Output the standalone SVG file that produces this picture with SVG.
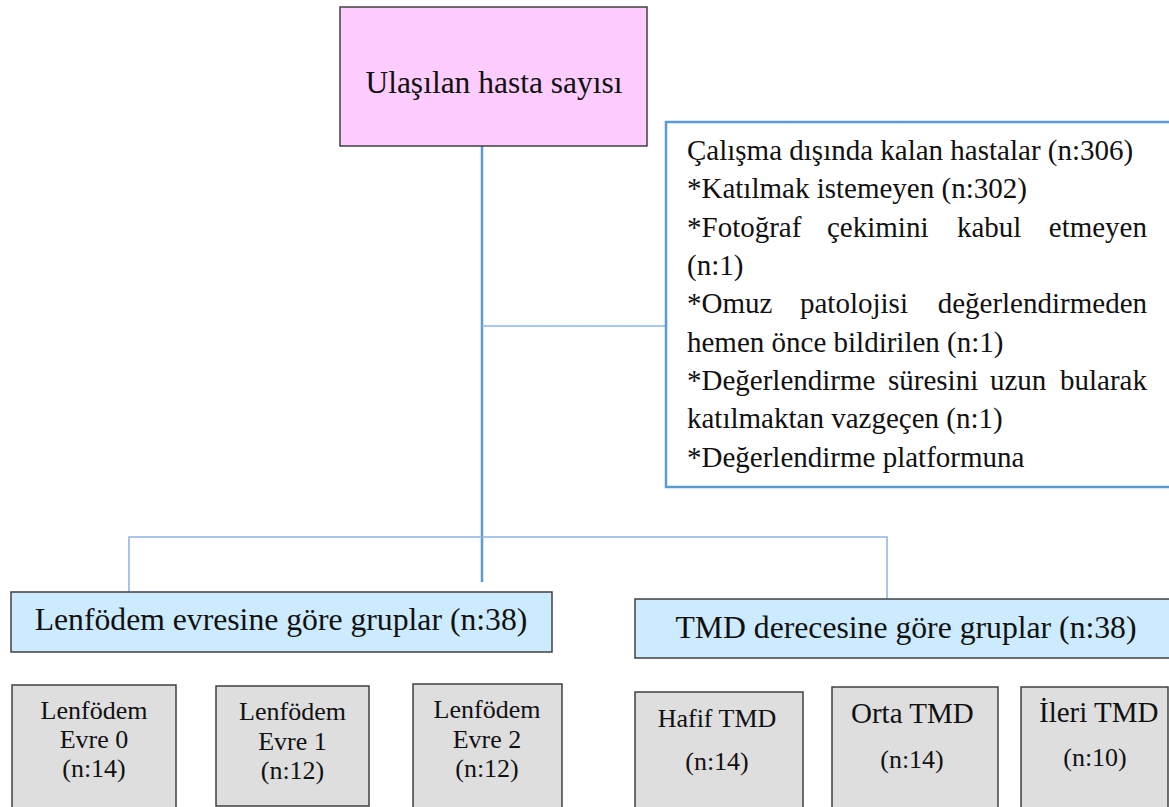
<svg xmlns="http://www.w3.org/2000/svg" width="1169" height="807" viewBox="0 0 1169 807">
<style>
text{font-family:"Liberation Serif","Times New Roman",serif;fill:#111;}
.box{stroke:#404040;stroke-width:1.5;}
.top{fill:#FFCCFF;}
.grp{fill:#CCEBFF;}
.leaf{fill:#DEDEDE;}
.excl{fill:#FFFFFF;stroke:#5B9BD5;stroke-width:2.5;}
.c{font-size:26px;text-anchor:middle;}
.ex{font-size:29px;}
.main{stroke:#5B9BD5;stroke-width:2.5;fill:none;}
.thin{stroke:#8DB4E2;stroke-width:1.5;fill:none;}
</style>
<rect width="1169" height="807" fill="#FFFFFF"/>
<g id="connectors">
<line class="main" x1="482" y1="146" x2="482" y2="582"/>
<line class="thin" x1="482" y1="326" x2="666" y2="326"/>
<polyline class="thin" points="129,592 129,537 887,537 887,599"/>
</g>
<g id="node-top">
<rect class="box top" x="340" y="7" width="307" height="139"/>
<text x="494" y="93" font-size="31.5" text-anchor="middle">Ulaşılan hasta sayısı</text>
</g>
<g id="node-exclusion">
<rect class="excl" x="666" y="122" width="510" height="365"/>
<text class="ex" x="687" y="160">Çalışma dışında kalan hastalar (n:306)</text>
<text class="ex" x="687" y="198">*Katılmak istemeyen (n:302)</text>
<text class="ex" y="237"><tspan x="687">*Fotoğraf</tspan><tspan x="827">çekimini</tspan><tspan x="957">kabul</tspan><tspan x="1147" text-anchor="end">etmeyen</tspan></text>
<text class="ex" x="687" y="275">(n:1)</text>
<text class="ex" y="313"><tspan x="687">*Omuz</tspan><tspan x="800">patolojisi</tspan><tspan x="1147" text-anchor="end">değerlendirmeden</tspan></text>
<text class="ex" x="687" y="352">hemen önce bildirilen (n:1)</text>
<text class="ex" y="390"><tspan x="687">*Değerlendirme</tspan><tspan x="888">süresini</tspan><tspan x="990">uzun</tspan><tspan x="1147" text-anchor="end">bularak</tspan></text>
<text class="ex" x="687" y="428">katılmaktan vazgeçen (n:1)</text>
<text class="ex" x="687" y="467">*Değerlendirme platformuna</text>
</g>
<g id="node-lenfodem-group">
<rect class="box grp" x="11" y="592" width="541" height="60"/>
<text x="281" y="630" font-size="31.7" text-anchor="middle">Lenfödem evresine göre gruplar (n:38)</text>
</g>
<g id="node-tmd-group">
<rect class="box grp" x="635" y="599" width="540" height="59"/>
<text x="906" y="638" font-size="31.7" text-anchor="middle">TMD derecesine göre gruplar (n:38)</text>
</g>
<g id="node-evre0">
<rect class="box leaf" x="12" y="685" width="164" height="130"/>
<text class="c" x="94" y="719">Lenfödem</text>
<text class="c" x="94" y="748">Evre 0</text>
<text class="c" x="94" y="777">(n:14)</text>
</g>
<g id="node-evre1">
<rect class="box leaf" x="216" y="686" width="153" height="120"/>
<text class="c" x="292.5" y="720">Lenfödem</text>
<text class="c" x="292.5" y="750">Evre 1</text>
<text class="c" x="292.5" y="779">(n:12)</text>
</g>
<g id="node-evre2">
<rect class="box leaf" x="413" y="684" width="149" height="130"/>
<text class="c" x="487" y="718">Lenfödem</text>
<text class="c" x="487" y="748">Evre 2</text>
<text class="c" x="487" y="777">(n:12)</text>
</g>
<g id="node-hafif">
<rect class="box leaf" x="635" y="692" width="168" height="130"/>
<text class="c" x="717" y="727">Hafif TMD</text>
<text class="c" x="717" y="770">(n:14)</text>
</g>
<g id="node-orta">
<rect class="box leaf" x="832" y="687" width="166" height="130"/>
<text class="ex" x="851" y="723" font-size="26">Orta TMD</text>
<text class="c" x="912" y="768">(n:14)</text>
</g>
<g id="node-ileri">
<rect class="box leaf" x="1021" y="687" width="147" height="130"/>
<text class="ex" x="1039" y="722" font-size="26">İleri TMD</text>
<text class="c" x="1095" y="766">(n:10)</text>
</g>
</svg>
